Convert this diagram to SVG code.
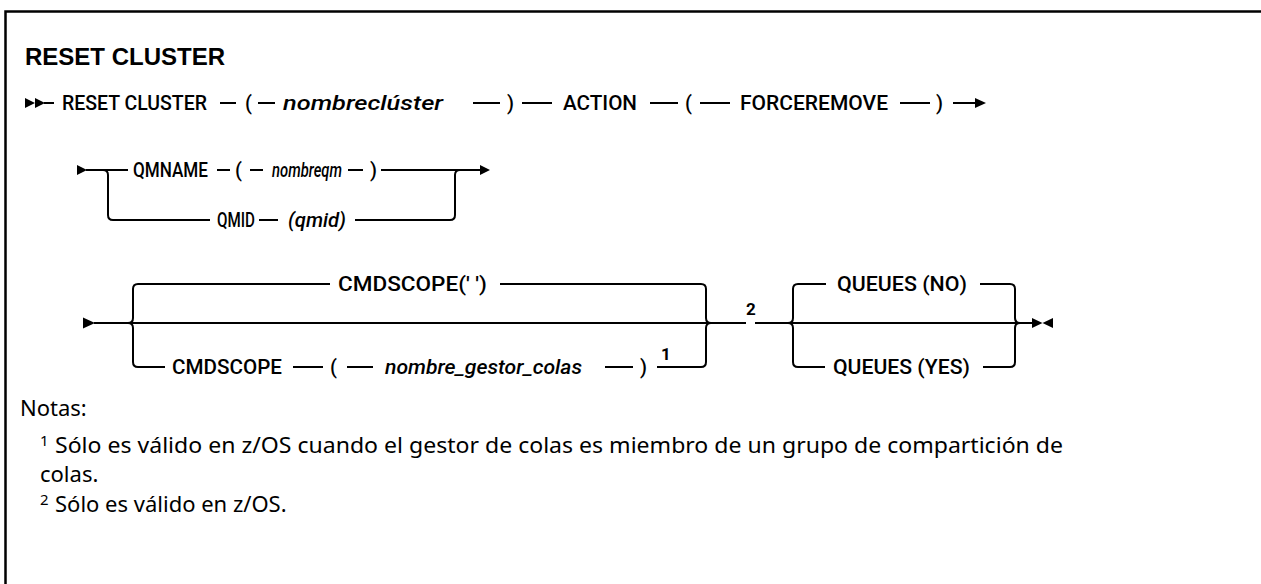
<svg xmlns="http://www.w3.org/2000/svg" width="1261" height="584" viewBox="0 0 1261 584">
<style>
.bg{fill:#ffffff}
.frame{fill:none;stroke:#000;stroke-width:2.5}
.ln{fill:none;stroke:#000;stroke-width:2}
.mk{fill:#000}
.t{font-family:Roboto,"Liberation Sans",Arial,sans-serif;font-size:20px;font-weight:500;fill:#000}
.i{font-style:italic}
.title{font-family:"Liberation Sans",Arial,sans-serif;font-size:24px;font-weight:bold;fill:#000}
.sup{font-family:Roboto,"Liberation Sans",Arial,sans-serif;font-size:17px;font-weight:bold;fill:#000}
.n{font-family:"Noto Sans","Open Sans",sans-serif;font-size:22px;fill:#000}
.ns{font-family:"Noto Sans","Open Sans",sans-serif;font-size:15px;fill:#000}
</style>
<rect class="bg" x="0" y="0" width="1261" height="584"/>
<path class="frame" d="M1270,11.5 H5.5 V590"/>
<text class="title" x="25" y="65" textLength="200" lengthAdjust="spacingAndGlyphs">RESET CLUSTER</text>

<g id="connectors">
  <!-- row 1 -->
  <polygon class="mk" points="25,98 35,103 25,108"/>
  <polygon class="mk" points="35,98 45,103 35,108"/>
  <path class="ln" d="M44,103 H54 M220,103 H236 M258,103 H275 M473,103 H500 M522,103 H552 M650,103 H678 M700,103 H730 M900,103 H930 M953,103 H977"/>
  <polygon class="mk" points="975,98 986,103 975,108"/>
  <!-- row 2 -->
  <polygon class="mk" points="77,165 87,170 77,175"/>
  <path class="ln" d="M86,170 H128 M217,170 H230 M250,170 H263 M348,170 H363 M381,170 H482"/>
  <polygon class="mk" points="480,165 490,170 480,175"/>
  <path class="ln" d="M103,170 Q108,170 108,175 V215 Q108,220 113,220 H210"/>
  <path class="ln" d="M259,220 H278 M355,220 H450 Q455,220 455,215 V175 Q455,170 460,170"/>
  <!-- row 3 -->
  <polygon class="mk" points="83,317.5 95,323 83,328.5"/>
  <path class="ln" d="M94,323 H746 M755,323 H1033"/>
  <path class="ln" d="M128,323 Q133,323 133,318 V289 Q133,284 138,284 H330"/>
  <path class="ln" d="M128,323 Q133,323 133,328 V362 Q133,367 138,367 H165"/>
  <path class="ln" d="M500,284 H701 Q706,284 706,289 V318 Q706,323 711,323"/>
  <path class="ln" d="M293,367 H323 M347,367 H373 M605,367 H633 M657,367 H701 Q706,367 706,362 V328 Q706,323 711,323"/>
  <path class="ln" d="M788,323 Q793,323 793,318 V289 Q793,284 798,284 H826"/>
  <path class="ln" d="M788,323 Q793,323 793,328 V362 Q793,367 798,367 H825"/>
  <path class="ln" d="M980,284 H1010 Q1015,284 1015,289 V318 Q1015,323 1020,323"/>
  <path class="ln" d="M983,367 H1010 Q1015,367 1015,362 V328 Q1015,323 1020,323"/>
  <polygon class="mk" points="1032,318 1042.5,323 1032,328"/>
  <polygon class="mk" points="1053,318 1042.5,323 1053,328"/>
</g>

<g id="row1">
  <text class="t" x="62" y="110" textLength="145" lengthAdjust="spacingAndGlyphs">RESET CLUSTER</text>
  <text class="t" x="245" y="110">(</text>
  <text class="t i" x="283" y="110" textLength="160" lengthAdjust="spacingAndGlyphs">nombreclúster</text>
  <text class="t" x="507" y="110">)</text>
  <text class="t" x="563" y="110" textLength="74" lengthAdjust="spacingAndGlyphs">ACTION</text>
  <text class="t" x="685" y="110">(</text>
  <text class="t" x="740" y="110" textLength="148" lengthAdjust="spacingAndGlyphs">FORCEREMOVE</text>
  <text class="t" x="936" y="110">)</text>
</g>

<g id="qmname">
  <text class="t" x="133" y="177" textLength="75" lengthAdjust="spacingAndGlyphs">QMNAME</text>
  <text class="t" x="235" y="177">(</text>
  <text class="t i" x="272" y="177" textLength="70" lengthAdjust="spacingAndGlyphs">nombreqm</text>
  <text class="t" x="370" y="177">)</text>
</g>
<g id="qmid">
  <text class="t" x="217" y="227" textLength="38" lengthAdjust="spacingAndGlyphs">QMID</text>
  <text class="t i" x="288" y="227" textLength="58" lengthAdjust="spacingAndGlyphs">(qmid)</text>
</g>

<g id="cmdscope-default">
  <text class="t" x="338" y="291" textLength="149" lengthAdjust="spacingAndGlyphs">CMDSCOPE(' ')</text>
</g>
<g id="cmdscope-qmgr">
  <text class="t" x="172" y="374" textLength="110" lengthAdjust="spacingAndGlyphs">CMDSCOPE</text>
  <text class="t" x="330" y="374">(</text>
  <text class="t i" x="385" y="374" textLength="197" lengthAdjust="spacingAndGlyphs">nombre_gestor_colas</text>
  <text class="t" x="640" y="374">)</text>
  <text class="sup" x="661" y="360">1</text>
</g>
<g id="note2-ref">
  <text class="sup" x="746" y="315">2</text>
</g>
<g id="queues-no">
  <text class="t" x="837" y="291" textLength="130" lengthAdjust="spacingAndGlyphs">QUEUES (NO)</text>
</g>
<g id="queues-yes">
  <text class="t" x="833" y="374" textLength="137" lengthAdjust="spacingAndGlyphs">QUEUES (YES)</text>
</g>

<g id="notes">
  <text class="n" x="20" y="416">Notas:</text>
  <text class="ns" x="40" y="446">1</text>
  <text class="n" x="55" y="453" textLength="1008" lengthAdjust="spacingAndGlyphs">Sólo es válido en z/OS cuando el gestor de colas es miembro de un grupo de compartición de</text>
  <text class="n" x="40" y="482">colas.</text>
  <text class="ns" x="40" y="505">2</text>
  <text class="n" x="55" y="512">Sólo es válido en z/OS.</text>
</g>
</svg>
